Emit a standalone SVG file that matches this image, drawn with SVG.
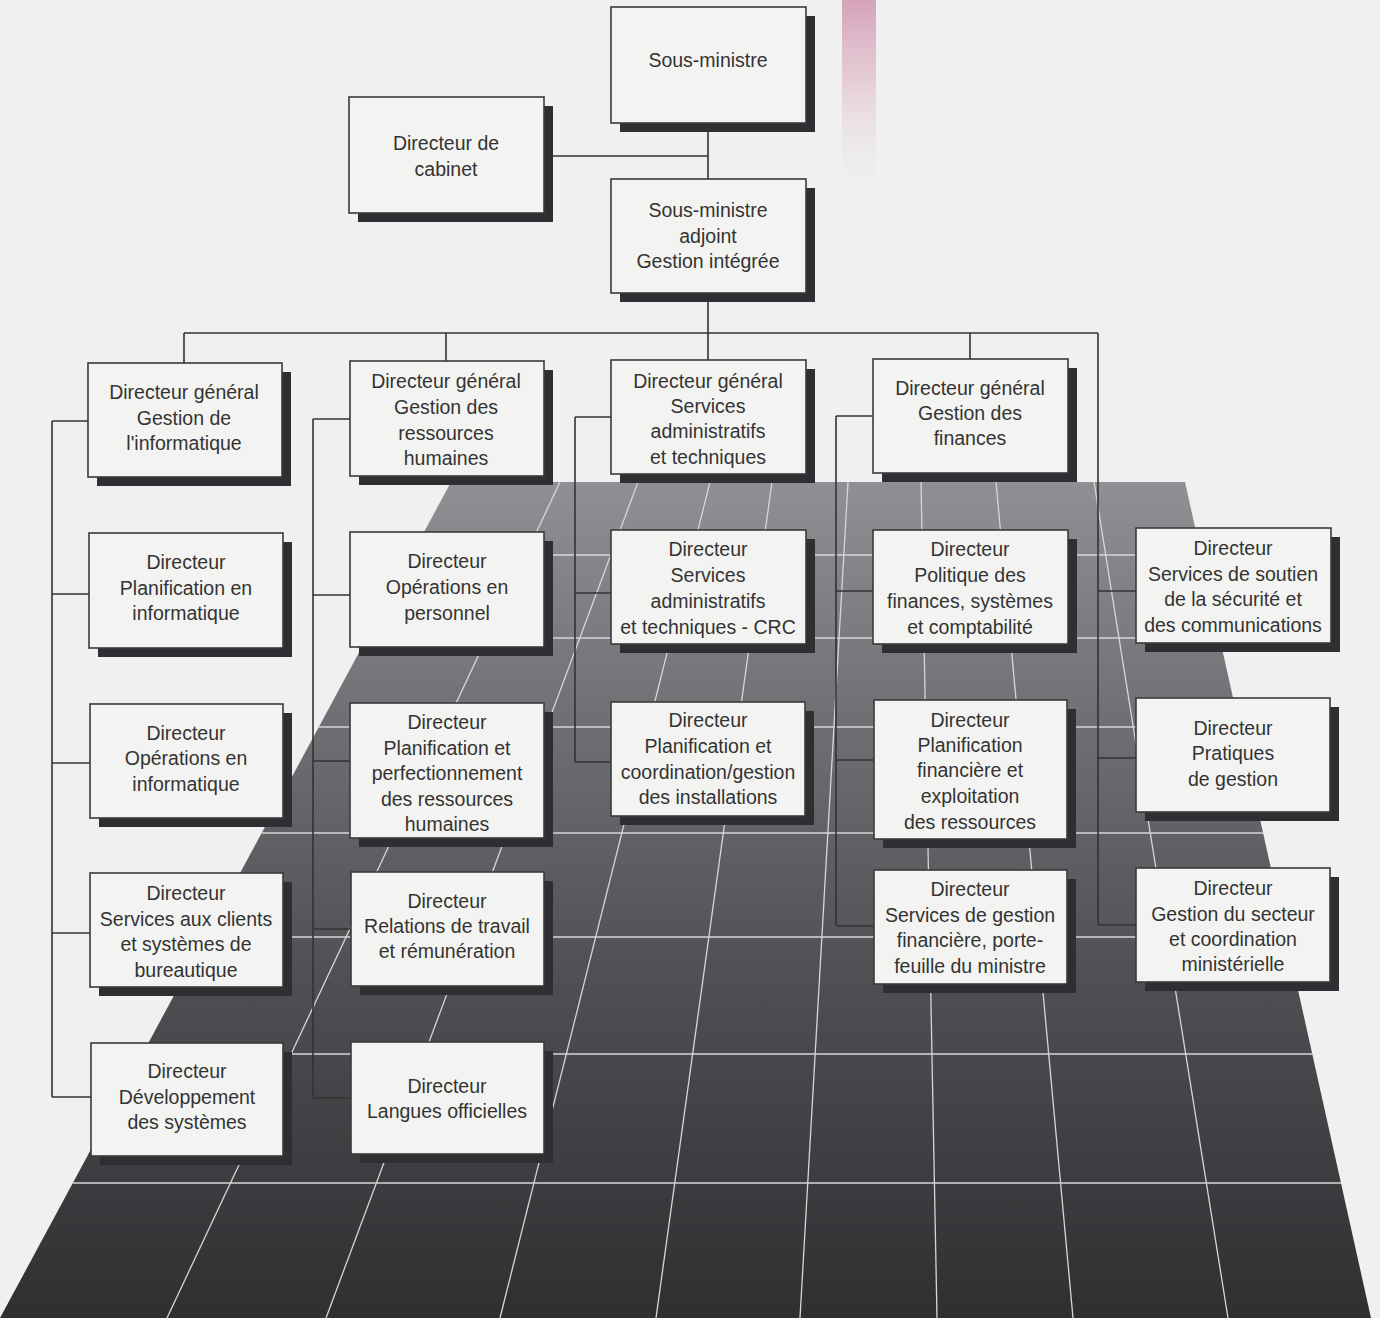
<svg xmlns="http://www.w3.org/2000/svg" width="1380" height="1318" viewBox="0 0 1380 1318">
<defs>
<linearGradient id="floor" x1="0" y1="482" x2="0" y2="1318" gradientUnits="userSpaceOnUse">
<stop offset="0" stop-color="#8f9094"/>
<stop offset="0.3" stop-color="#6d6e72"/>
<stop offset="0.6" stop-color="#4f4f53"/>
<stop offset="1" stop-color="#2f2f32"/>
</linearGradient>
<linearGradient id="pink" x1="0" y1="0" x2="0" y2="1">
<stop offset="0" stop-color="#d094b0" stop-opacity="0.85"/>
<stop offset="0.4" stop-color="#ddb0c3" stop-opacity="0.55"/>
<stop offset="1" stop-color="#eff0ef" stop-opacity="0"/>
</linearGradient>
<style>
.sh{fill:#2f2f33}
.bx{fill:#f3f4f2;stroke:#3a3a3a;stroke-width:1.6}
text{font-family:"Liberation Sans",Arial,sans-serif;font-size:19.5px;fill:#333;text-anchor:middle}
.conn line{stroke:#333;stroke-width:1.6;fill:none}
.grid line{stroke:#d6d6d8;stroke-width:1.3}
</style>
</defs>
<rect x="0" y="0" width="1380" height="1318" fill="#eff0ef"/>
<rect x="842" y="0" width="34" height="200" fill="url(#pink)"/>
<g id="floor-grid">
<polygon points="451,482 1185,482 1371,1318 0,1318" fill="url(#floor)"/>
<g class="grid">
<line x1="411.6" y1="555" x2="1201.2" y2="555"/>
<line x1="366.8" y1="638" x2="1219.7" y2="638"/>
<line x1="318.8" y1="727" x2="1239.5" y2="727"/>
<line x1="261.6" y1="833" x2="1263.1" y2="833"/>
<line x1="205.5" y1="937" x2="1286.2" y2="937"/>
<line x1="142.4" y1="1054" x2="1312.3" y2="1054"/>
<line x1="72.8" y1="1183" x2="1341" y2="1183"/>
<line x1="560" y1="482" x2="167" y2="1318"/>
<line x1="638" y1="482" x2="326" y2="1318"/>
<line x1="710" y1="482" x2="500" y2="1318"/>
<line x1="772" y1="482" x2="656" y2="1318"/>
<line x1="848" y1="482" x2="800" y2="1318"/>
<line x1="921" y1="482" x2="937" y2="1318"/>
<line x1="996" y1="482" x2="1073" y2="1318"/>
<line x1="1094" y1="482" x2="1228" y2="1318"/>
</g>
</g>
<g id="connectors" class="conn">
<line x1="708" y1="123" x2="708" y2="179"/>
<line x1="544" y1="156" x2="708" y2="156"/>
<line x1="708" y1="293" x2="708" y2="333"/>
<line x1="184" y1="333" x2="1098" y2="333"/>
<line x1="184" y1="333" x2="184" y2="363"/>
<line x1="446" y1="333" x2="446" y2="361"/>
<line x1="708" y1="333" x2="708" y2="360"/>
<line x1="970" y1="333" x2="970" y2="359"/>
<line x1="1098" y1="333" x2="1098" y2="925"/>
<line x1="1098" y1="591" x2="1136" y2="591"/>
<line x1="1098" y1="758" x2="1136" y2="758"/>
<line x1="1098" y1="925" x2="1136" y2="925"/>
<line x1="52" y1="421" x2="52" y2="1097"/>
<line x1="52" y1="421" x2="88" y2="421"/>
<line x1="52" y1="594" x2="89" y2="594"/>
<line x1="52" y1="763" x2="90" y2="763"/>
<line x1="52" y1="933" x2="90" y2="933"/>
<line x1="52" y1="1097" x2="91" y2="1097"/>
<line x1="313" y1="419" x2="313" y2="1098"/>
<line x1="313" y1="419" x2="350" y2="419"/>
<line x1="313" y1="595" x2="350" y2="595"/>
<line x1="313" y1="761" x2="350" y2="761"/>
<line x1="313" y1="929" x2="351" y2="929"/>
<line x1="313" y1="1098" x2="351" y2="1098"/>
<line x1="575" y1="417" x2="575" y2="762"/>
<line x1="575" y1="417" x2="611" y2="417"/>
<line x1="575" y1="593" x2="611" y2="593"/>
<line x1="575" y1="762" x2="611" y2="762"/>
<line x1="836" y1="416" x2="836" y2="926"/>
<line x1="836" y1="416" x2="873" y2="416"/>
<line x1="836" y1="591" x2="873" y2="591"/>
<line x1="836" y1="760" x2="874" y2="760"/>
<line x1="836" y1="926" x2="874" y2="926"/>
</g>
<g id="n-sous-ministre"><rect class="sh" x="620" y="16" width="195" height="116"/><rect class="bx" x="611" y="7" width="195" height="116"/><text><tspan x="708" y="67">Sous-ministre</tspan></text></g>
<g id="n-cabinet"><rect class="sh" x="358" y="106" width="195" height="116"/><rect class="bx" x="349" y="97" width="195" height="116"/><text><tspan x="446" y="150">Directeur de</tspan><tspan x="446" y="176">cabinet</tspan></text></g>
<g id="n-adjoint"><rect class="sh" x="620" y="188" width="195" height="114"/><rect class="bx" x="611" y="179" width="195" height="114"/><text><tspan x="708" y="217">Sous-ministre</tspan><tspan x="708" y="243">adjoint</tspan><tspan x="708" y="268">Gestion intégrée</tspan></text></g>
<g id="n-dg-info"><rect class="sh" x="97" y="372" width="194" height="114"/><rect class="bx" x="88" y="363" width="194" height="114"/><text><tspan x="184" y="399">Directeur général</tspan><tspan x="184" y="425">Gestion de</tspan><tspan x="184" y="450">l'informatique</tspan></text></g>
<g id="n-dg-rh"><rect class="sh" x="359" y="370" width="194" height="115"/><rect class="bx" x="350" y="361" width="194" height="115"/><text><tspan x="446" y="388">Directeur général</tspan><tspan x="446" y="414">Gestion des</tspan><tspan x="446" y="440">ressources</tspan><tspan x="446" y="465">humaines</tspan></text></g>
<g id="n-dg-sat"><rect class="sh" x="620" y="369" width="195" height="114"/><rect class="bx" x="611" y="360" width="195" height="114"/><text><tspan x="708" y="388">Directeur général</tspan><tspan x="708" y="413">Services</tspan><tspan x="708" y="438">administratifs</tspan><tspan x="708" y="464">et techniques</tspan></text></g>
<g id="n-dg-fin"><rect class="sh" x="882" y="368" width="195" height="114"/><rect class="bx" x="873" y="359" width="195" height="114"/><text><tspan x="970" y="395">Directeur général</tspan><tspan x="970" y="420">Gestion des</tspan><tspan x="970" y="445">finances</tspan></text></g>
<g id="n-planif-info"><rect class="sh" x="98" y="542" width="194" height="115"/><rect class="bx" x="89" y="533" width="194" height="115"/><text><tspan x="186" y="569">Directeur</tspan><tspan x="186" y="595">Planification en</tspan><tspan x="186" y="620">informatique</tspan></text></g>
<g id="n-ops-info"><rect class="sh" x="99" y="713" width="193" height="114"/><rect class="bx" x="90" y="704" width="193" height="114"/><text><tspan x="186" y="740">Directeur</tspan><tspan x="186" y="765">Opérations en</tspan><tspan x="186" y="791">informatique</tspan></text></g>
<g id="n-clients"><rect class="sh" x="99" y="882" width="193" height="114"/><rect class="bx" x="90" y="873" width="193" height="114"/><text><tspan x="186" y="900">Directeur</tspan><tspan x="186" y="926">Services aux clients</tspan><tspan x="186" y="951">et systèmes de</tspan><tspan x="186" y="977">bureautique</tspan></text></g>
<g id="n-dev"><rect class="sh" x="100" y="1052" width="192" height="113"/><rect class="bx" x="91" y="1043" width="192" height="113"/><text><tspan x="187" y="1078">Directeur</tspan><tspan x="187" y="1104">Développement</tspan><tspan x="187" y="1129">des systèmes</tspan></text></g>
<g id="n-ops-pers"><rect class="sh" x="359" y="541" width="194" height="115"/><rect class="bx" x="350" y="532" width="194" height="115"/><text><tspan x="447" y="568">Directeur</tspan><tspan x="447" y="594">Opérations en</tspan><tspan x="447" y="620">personnel</tspan></text></g>
<g id="n-perf"><rect class="sh" x="359" y="712" width="194" height="135"/><rect class="bx" x="350" y="703" width="194" height="135"/><text><tspan x="447" y="729">Directeur</tspan><tspan x="447" y="755">Planification et</tspan><tspan x="447" y="780">perfectionnement</tspan><tspan x="447" y="806">des ressources</tspan><tspan x="447" y="831">humaines</tspan></text></g>
<g id="n-relations"><rect class="sh" x="360" y="881" width="193" height="114"/><rect class="bx" x="351" y="872" width="193" height="114"/><text><tspan x="447" y="908">Directeur</tspan><tspan x="447" y="933">Relations de travail</tspan><tspan x="447" y="958">et rémunération</tspan></text></g>
<g id="n-langues"><rect class="sh" x="360" y="1051" width="193" height="112"/><rect class="bx" x="351" y="1042" width="193" height="112"/><text><tspan x="447" y="1093">Directeur</tspan><tspan x="447" y="1118">Langues officielles</tspan></text></g>
<g id="n-sat-crc"><rect class="sh" x="620" y="539" width="195" height="114"/><rect class="bx" x="611" y="530" width="195" height="114"/><text><tspan x="708" y="556">Directeur</tspan><tspan x="708" y="582">Services</tspan><tspan x="708" y="608">administratifs</tspan><tspan x="708" y="634">et techniques - CRC</tspan></text></g>
<g id="n-installations"><rect class="sh" x="620" y="711" width="194" height="114"/><rect class="bx" x="611" y="702" width="194" height="114"/><text><tspan x="708" y="727">Directeur</tspan><tspan x="708" y="753">Planification et</tspan><tspan x="708" y="779">coordination/gestion</tspan><tspan x="708" y="804">des installations</tspan></text></g>
<g id="n-politique"><rect class="sh" x="882" y="539" width="195" height="114"/><rect class="bx" x="873" y="530" width="195" height="114"/><text><tspan x="970" y="556">Directeur</tspan><tspan x="970" y="582">Politique des</tspan><tspan x="970" y="608">finances, systèmes</tspan><tspan x="970" y="634">et comptabilité</tspan></text></g>
<g id="n-planif-fin"><rect class="sh" x="883" y="709" width="193" height="139"/><rect class="bx" x="874" y="700" width="193" height="139"/><text><tspan x="970" y="727">Directeur</tspan><tspan x="970" y="752">Planification</tspan><tspan x="970" y="777">financière et</tspan><tspan x="970" y="803">exploitation</tspan><tspan x="970" y="829">des ressources</tspan></text></g>
<g id="n-gestion-fin"><rect class="sh" x="883" y="879" width="193" height="114"/><rect class="bx" x="874" y="870" width="193" height="114"/><text><tspan x="970" y="896">Directeur</tspan><tspan x="970" y="922">Services de gestion</tspan><tspan x="970" y="947">financière, porte-</tspan><tspan x="970" y="973">feuille du ministre</tspan></text></g>
<g id="n-soutien"><rect class="sh" x="1145" y="537" width="195" height="115"/><rect class="bx" x="1136" y="528" width="195" height="115"/><text><tspan x="1233" y="555">Directeur</tspan><tspan x="1233" y="581">Services de soutien</tspan><tspan x="1233" y="606">de la sécurité et</tspan><tspan x="1233" y="632">des communications</tspan></text></g>
<g id="n-pratiques"><rect class="sh" x="1145" y="707" width="194" height="114"/><rect class="bx" x="1136" y="698" width="194" height="114"/><text><tspan x="1233" y="735">Directeur</tspan><tspan x="1233" y="760">Pratiques</tspan><tspan x="1233" y="786">de gestion</tspan></text></g>
<g id="n-secteur"><rect class="sh" x="1145" y="877" width="194" height="114"/><rect class="bx" x="1136" y="868" width="194" height="114"/><text><tspan x="1233" y="895">Directeur</tspan><tspan x="1233" y="921">Gestion du secteur</tspan><tspan x="1233" y="946">et coordination</tspan><tspan x="1233" y="971">ministérielle</tspan></text></g>
</svg>
